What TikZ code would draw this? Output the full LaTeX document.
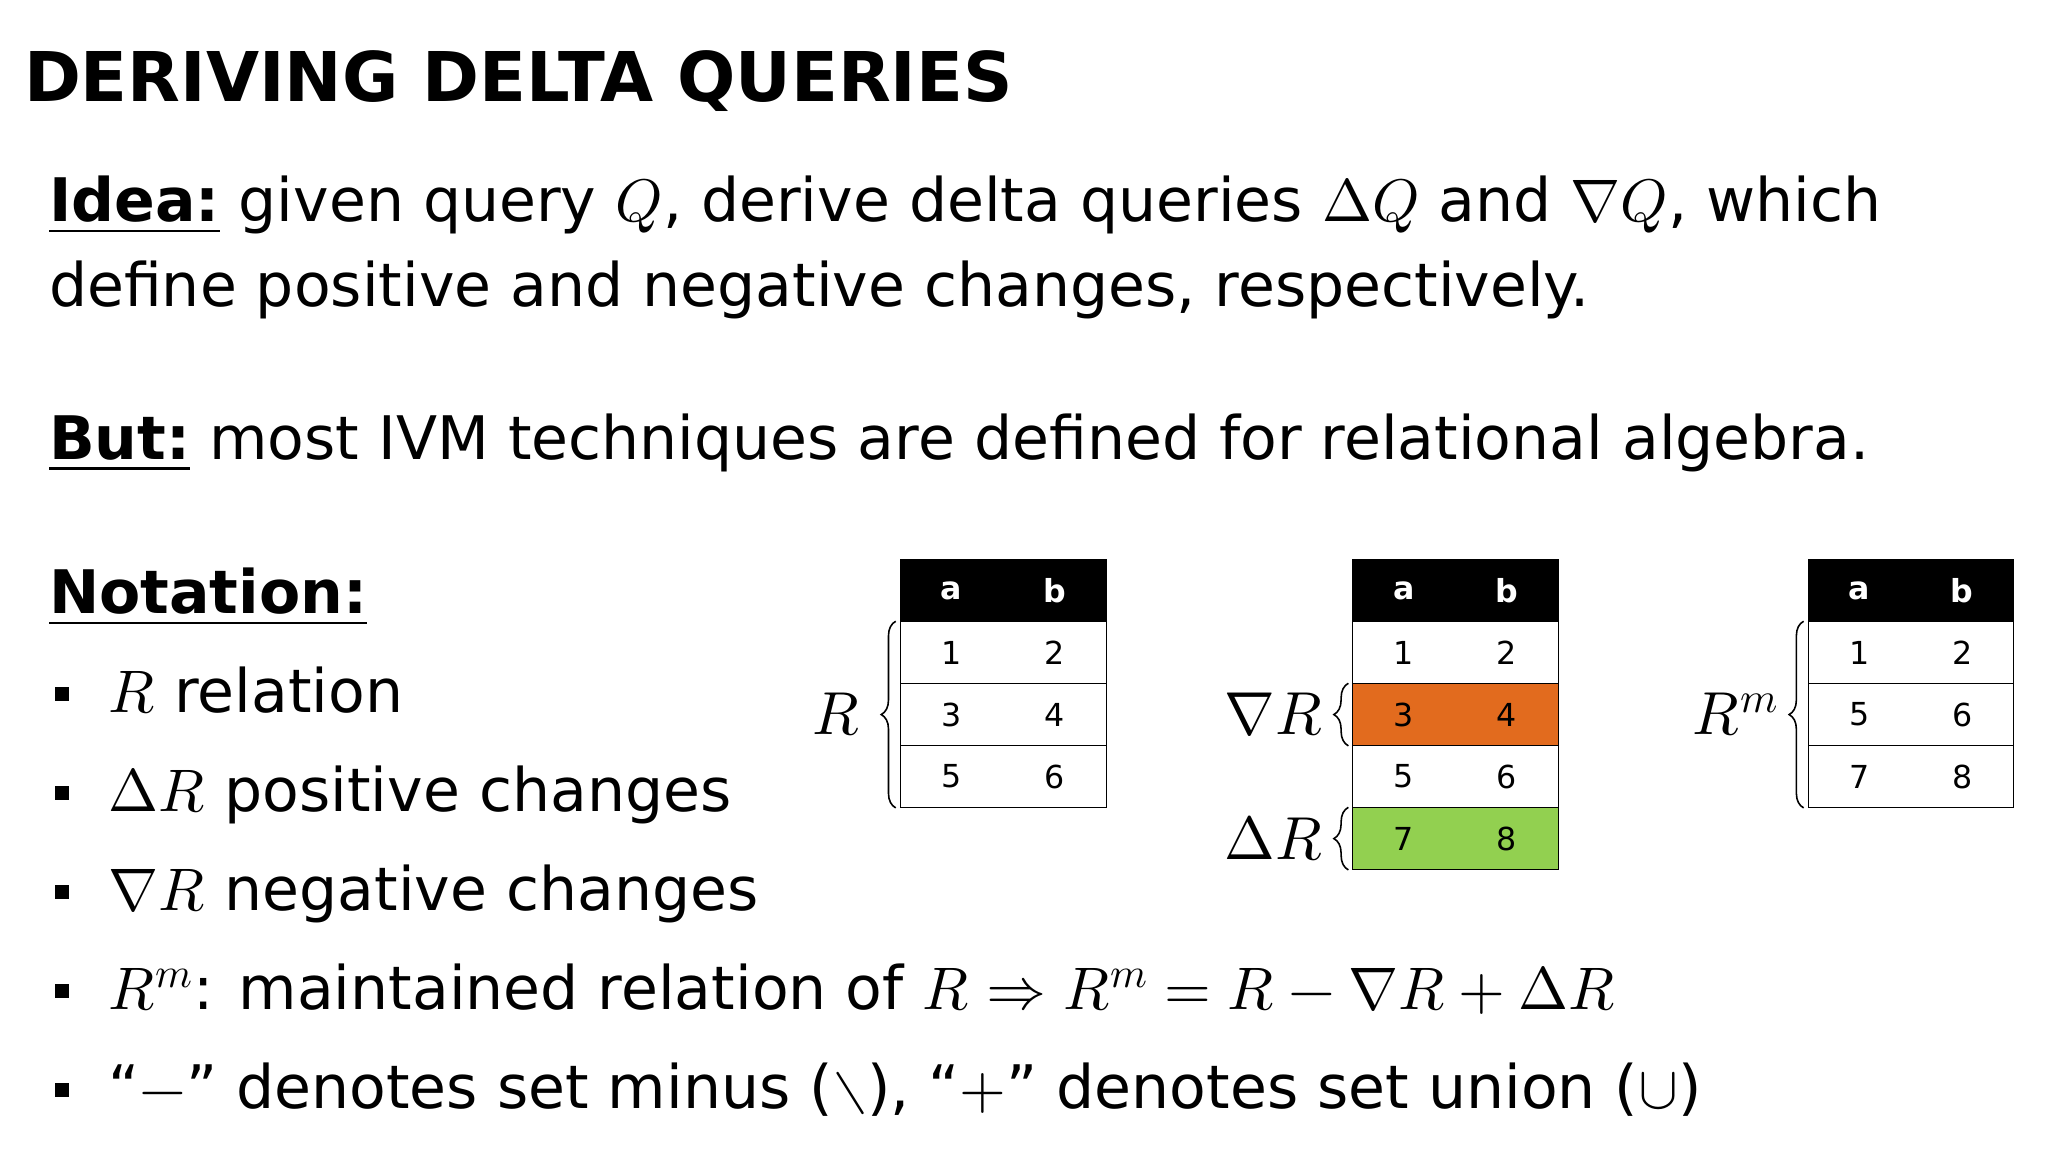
\documentclass[tikz,border=0pt]{standalone}
\usepackage{amsmath}
\usepackage{fontspec}
\usepackage{unicode-math}
\setmainfont{DejaVu Sans}
\setmathfont{Latin Modern Math}
\usetikzlibrary{decorations.pathreplacing}
\begin{document}
\begin{tikzpicture}[x=1pt,y=-1pt,
 txt/.style={anchor=base west,inner sep=0,font=\fontsize{45.5}{50}\selectfont},
 bul/.style={fill=black,minimum size=11pt,inner sep=0},
 hd/.style={fill=black,draw=black,minimum width=156pt,minimum height=47pt,inner sep=0},
 cl/.style={draw=black,fill=white,minimum width=156pt,minimum height=47pt,inner sep=0},
 ct/.style={inner sep=0,font=\fontsize{24}{26}\selectfont},
 br/.style={decorate,decoration={brace,amplitude=11pt},line width=1.2pt},
 lab/.style={anchor=east,inner sep=0,font=\fontsize{46}{50}\selectfont}]
\useasboundingbox (0,0) rectangle (1552,873);
\node[anchor=base west,inner sep=0,font=\fontsize{52}{60}\selectfont\bfseries] (title) at (18,77) {DERIVING DELTA QUERIES};
\node[txt] (i1) at (37,168) {\underline{\textbf{Idea:}} given query $Q$, derive delta queries $\Delta Q$ and $\nabla Q$, which};
\node[txt] (i2) at (37,232) {define positive and negative changes, respectively.};
\node[txt] (b) at (37,348) {\underline{\textbf{But:}} most IVM techniques are defined for relational algebra.};
\node[txt] (n) at (37,465) {\underline{\textbf{Notation:}}};
\foreach \y/\t [count=\i] in {540/{$R$ relation},615/{$\Delta R$ positive changes},690/{$\nabla R$ negative changes},765/{$R^m$: maintained relation of $R\Rightarrow R^m=R-\nabla R+\Delta R$},840/{“$-$” denotes set minus ($\setminus$), “$+$” denotes set union ($\cup$)}}{
 \node[bul] (bl\i) at (47,\y-14) {};
 \node[txt] (t\i) at (82,\y) {\t};
}
% tables
\foreach \tx/\nm/\vals in {682/A/{1/2,3/4,5/6},1025/B/{1/2,3/4,5/6,7/8},1370/C/{1/2,5/6,7/8}}{
 \node[hd] (\nm h) at (\tx+78,447.5) {};
 \node[ct,text=white,font=\fontsize{24}{26}\selectfont\bfseries] at (\tx+39,447.5) {a};
 \node[ct,text=white,font=\fontsize{24}{26}\selectfont\bfseries] at (\tx+117,447.5) {b};
 \foreach \p/\q [count=\r] in \vals {
  \node[cl] (\nm\r) at (\tx+78,447.5+47*\r) {};
  \node[ct] at (\tx+39,447.5+47*\r) {\p};
  \node[ct] at (\tx+117,447.5+47*\r) {\q};
 }
}
\node[cl,fill={rgb,255:red,226;green,107;blue,30}] at (B2) {};
\node[ct] at ([xshift=-39pt]B2.center) {3};
\node[ct] at ([xshift=39pt]B2.center) {4};
\node[cl,fill={rgb,255:red,146;green,208;blue,80}] at (B4) {};
\node[ct] at ([xshift=-39pt]B4.center) {7};
\node[ct] at ([xshift=39pt]B4.center) {8};
% braces
\draw[br] ([xshift=-3pt]A3.south west) -- ([xshift=-3pt]A1.north west);
\draw[br] ([xshift=-3pt]B2.south west) -- ([xshift=-3pt]B2.north west);
\draw[br] ([xshift=-3pt]B4.south west) -- ([xshift=-3pt]B4.north west);
\draw[br] ([xshift=-3pt]C3.south west) -- ([xshift=-3pt]C1.north west);
\node[lab] (lR) at ([xshift=-30pt]A2.west) {$R$};
\node[lab] (lN) at ([xshift=-22pt]B2.west) {$\nabla R$};
\node[lab] (lD) at ([xshift=-22pt]B4.west) {$\Delta R$};
\node[lab] (lM) at ([xshift=-22pt]C2.west) {$R^m$};
\end{tikzpicture}
\end{document}
